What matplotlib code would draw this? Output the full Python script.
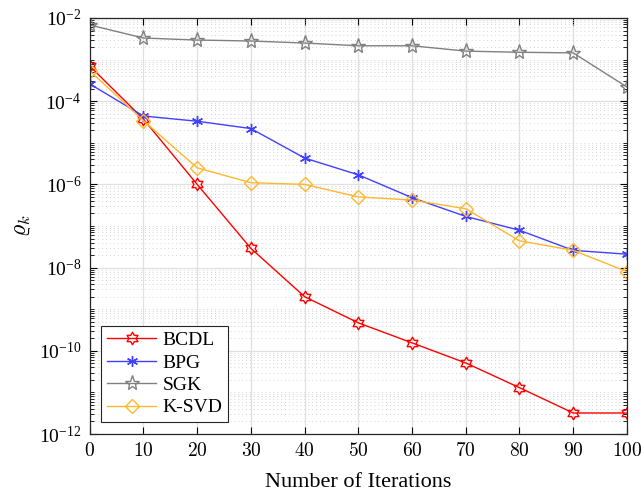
import numpy as np
import matplotlib
matplotlib.use("Agg")
import matplotlib.pyplot as plt
from matplotlib.path import Path
from matplotlib.ticker import LogLocator, FixedLocator, NullFormatter

# Values
iterations = [0, 10, 20, 30, 40, 50, 60, 70, 80, 90, 100]
bcdl = [7e-4, 3.7e-5, 1.0e-6, 2.9e-8, 2.0e-9, 4.7e-10, 1.55e-10, 5.1e-11, 1.3e-11, 3.2e-12, 3.2e-12]
bpg = [2.6e-4, 4.4e-5, 3.3e-5, 2.2e-5, 4.3e-6, 1.7e-6, 4.8e-7, 1.7e-7, 7.9e-8, 2.6e-8, 2.1e-8]
sgk = [6.8e-3, 3.3e-3, 2.95e-3, 2.8e-3, 2.5e-3, 2.15e-3, 2.15e-3, 1.6e-3, 1.5e-3, 1.45e-3, 2.2e-4]
ksvd = [5.4e-4, 3.4e-5, 2.5e-6, 1.1e-6, 1.0e-6, 5.0e-7, 4.2e-7, 2.6e-7, 4.4e-8, 2.6e-8, 8e-9]

plt.rcParams['font.family'] = ['Liberation Serif', 'DejaVu Serif']
plt.rcParams['mathtext.fontset'] = 'cm'


# six-pointed star (MATLAB hexagram)
def hexagram():
    verts = []
    for k in range(12):
        ang = np.pi / 2 + k * np.pi / 6
        r = 1.0 if k % 2 == 0 else 0.577
        verts.append((r * np.cos(ang), r * np.sin(ang)))
    verts.append(verts[0])
    codes = [Path.MOVETO] + [Path.LINETO] * 11 + [Path.CLOSEPOLY]
    return Path(verts, codes)


fig = plt.figure(figsize=(6.41, 5.00), dpi=100)
ax = fig.add_axes([0.140, 0.132, 0.838, 0.832])

ax.plot(iterations, bcdl, color='#ff0000', lw=1.0, marker=hexagram(), ms=9,
        mfc='none', mec='#ff0000', mew=1.0, label='BCDL')
ax.plot(iterations, bpg, color='#4040ff', lw=1.0, marker=(6, 2, 0), ms=8,
        mec='#4040ff', mew=1.0, label='BPG')
ax.plot(iterations, sgk, color='#808080', lw=1.0, marker='*', ms=11,
        mfc='none', mec='#808080', mew=1.0, label='SGK')
ax.plot(iterations, ksvd, color='#ffb72e', lw=1.0, marker='D', ms=7,
        mfc='none', mec='#ffb72e', mew=1.0, label='K-SVD')

ax.set_yscale('log')
ax.set_xlim(0, 100)
ax.set_ylim(1e-12, 1e-2)
ax.xaxis.set_major_locator(FixedLocator(iterations))
ax.set_xticklabels([f'${v}$' for v in iterations])
ax.yaxis.set_major_locator(LogLocator(base=100.0, numticks=20))
ax.yaxis.set_minor_locator(LogLocator(base=10.0, subs=np.arange(1, 10), numticks=100))
ax.yaxis.set_minor_formatter(NullFormatter())

ax.tick_params(which='both', direction='in', top=True, right=True)
ax.tick_params(which='major', length=5, labelsize=14, pad=6)
ax.tick_params(which='minor', length=3)

ax.grid(True, which='major', color='#e0e0e0', lw=0.9, ls='-')
ax.grid(True, which='minor', axis='y', color='#d4d4d4', lw=0.7, ls=(0, (1, 3)))
ax.set_axisbelow(True)
for s in ax.spines.values():
    s.set_linewidth(0.9)
    s.set_color('#262626')

ax.set_xlabel('Number of Iterations', fontsize=16, labelpad=9)
ax.set_ylabel(r'$\varrho_k$', fontsize=17)

leg = ax.legend(loc='lower left', fontsize=14, fancybox=False, framealpha=1,
                edgecolor='#262626', handlelength=2.5, handletextpad=0.35,
                borderaxespad=0.6, labelspacing=0.25, borderpad=0.3)
leg.get_frame().set_linewidth(0.8)

fig.savefig('out.png', dpi=100)
